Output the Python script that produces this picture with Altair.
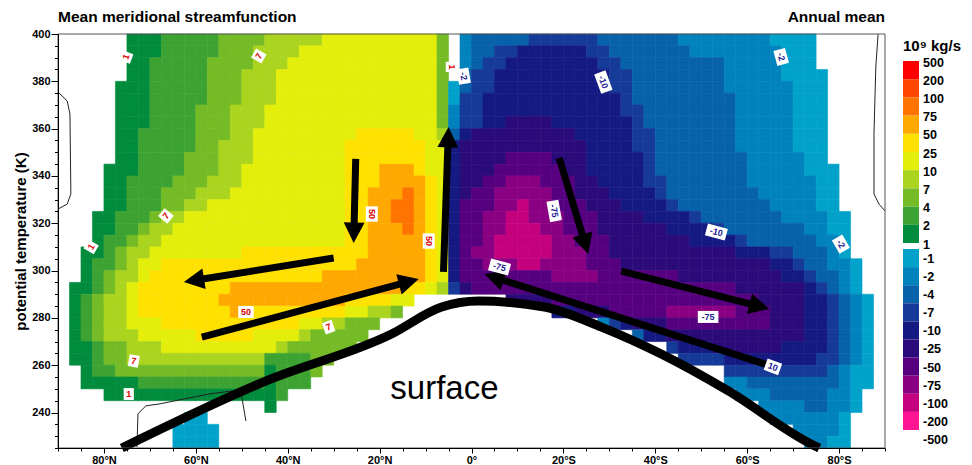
import math
import altair as alt
import pandas as pd

# ---------------- texts ----------------
TITLE_LEFT = "Mean meridional streamfunction"
TITLE_RIGHT = "Annual mean"
Y_TITLE = "potential temperature (K)"
LEGEND_TITLE = "10\u2079 kg/s"
SURFACE_TEXT = "surface"
FONT = "Liberation Sans"

# ---------------- grid definition ----------------
LAT_MAX = 90.0
LAT_MIN = -90.0
LAT_STEP = 2.5
TH_MAX = 400.0
TH_MIN = 225.0
TH_STEP = 5.0

# band codes: a..j = positive bands (1-2, 2-4, 4-7, 7-10, 10-25, 25-50, 50-75, 75-100, 100-200, 200-500)
#             A..J = negative bands (-1..-2, ..., -200..-500); '.' = |psi| < 1 or below surface
BAND_CODES = ["a", "b", "c", "d", "e", "f", "g", "h", "i", "j",
              "A", "B", "C", "D", "E", "F", "G", "H", "I", "J"]
BAND_COLORS = ["#008C3C", "#3CA232", "#74BB26", "#AAD41E", "#E3EE0A",
               "#FFE100", "#FFA800", "#FF7300", "#FF4500", "#FF0000",
               "#00A2CA", "#0082BD", "#0762A9", "#163A98", "#151A82",
               "#2B0A7A", "#560080", "#8A0082", "#C4007F", "#FF1494"]

# legend
POS_LABELS = ["500", "200", "100", "75", "50", "25", "10", "7", "4", "2", "1"]
POS_SWATCHES = ["#FF0000", "#FF4500", "#FF7300", "#FFA800", "#FFE100",
                "#E3EE0A", "#AAD41E", "#74BB26", "#3CA232", "#008C3C"]
NEG_LABELS = ["-1", "-2", "-4", "-7", "-10", "-25", "-50", "-75", "-100", "-200", "-500"]
NEG_SWATCHES = ["#00A2CA", "#0082BD", "#0762A9", "#163A98", "#151A82",
                "#2B0A7A", "#560080", "#8A0082", "#C4007F", "#FF1494"]

# rows from 400 K (top) down to 225 K, 2.5 deg columns from 90N to 90S (run-length: code+count)
ROWS = [
    ".6 a3 b5 c4 d5 e10 c1 .1 B1 C5 D6 C7 B8 A4 .6",
    ".6 a3 b5 c3 d4 e12 c1 .1 B1 C2 D2 E6 D2 C7 B8 A3 .6",
    ".6 a2 b5 c4 d3 e13 c1 .1 B1 C1 D2 E8 D2 C9 B5 A3 .6",
    ".6 a2 b5 c3 d3 e14 c1 .1 C1 D2 E10 D2 C8 B5 A4 .5",
    ".5 a3 b5 c3 d3 e14 c1 A1 C1 D2 E10 D2 C8 B6 A3 .5",
    ".5 a3 b5 c3 d3 e14 c1 A1 D2 E12 D1 C9 B5 A3 .5",
    ".5 a3 b4 c3 d3 e15 c1 B1 D2 E12 D2 C8 B5 A3 .5",
    ".5 a3 b4 c3 d3 e15 c1 B1 D2 E2 F4 E7 D1 C8 B5 A3 .5",
    ".5 a2 b5 c3 d2 e9 f5 e2 d1 C1 E1 F9 E5 D2 C7 B5 A3 .5",
    ".5 a2 b5 c2 d3 e8 f7 e2 E1 F11 E4 D2 C7 B5 A3 .5",
    ".5 a2 b4 c3 d3 e8 f7 e2 E1 F4 G4 F3 E5 D1 C8 B5 A2 .5",
    ".4 a3 b4 c3 d2 e9 f3 g3 f1 e2 E1 F3 G6 F2 E5 D1 C8 B5 A3 .4",
    ".4 a2 b4 c3 d3 e9 f3 g4 f1 e1 E1 F2 G2 H3 G3 F2 E4 D2 C7 B6 A2 .4",
    ".4 a2 b3 c3 d3 e10 f2 g3 h1 g1 f1 e1 E1 F1 G2 H5 G2 F3 E4 D1 C8 B5 A2 .4",
    ".4 a2 b3 c2 d2 e12 f2 g2 h2 g1 f1 e1 E1 G3 H2 I1 H2 G3 F3 E4 D1 C8 B4 A2 .4",
    ".3 a2 b3 c1 d2 e14 f2 g2 h2 g1 f1 e1 E1 G2 H2 I2 H3 G3 F4 E4 D1 C7 B4 A2 .3",
    ".3 a2 b2 c1 d2 e15 f2 g3 h1 g1 f1 e1 E1 G2 H2 I3 H2 G3 F6 E4 D1 C7 B2 A2 .3",
    ".3 a1 b2 c1 d2 e16 f2 g5 f1 e1 E1 G2 H1 I5 H2 G3 F7 E4 D1 C6 B2 A1 .3",
    ".2 a2 b1 c1 d2 e8 f11 g5 f1 e1 E1 G1 H2 I5 H3 G2 F11 E3 D2 C3 B1 A1 .3",
    ".2 a1 b2 c1 d1 e2 f17 g6 f1 e1 E1 G2 H3 I2 H4 G3 F13 E2 D1 C2 B2 A1 .2",
    ".2 a1 b1 c1 d2 e1 f15 g9 f1 e1 E1 G8 H4 G7 F9 E2 D1 C2 B1 A1 .2",
    ".1 a2 b1 c1 d1 e1 f8 g15 f2 e1 d1 D1 F1 G23 F6 E1 D1 C1 B1 A1 .2",
    ".1 a1 b1 c1 d2 e1 f7 g11 f4 e2 .3 .1 .4 F4 G18 F4 E2 D1 C1 B1 A1 .1",
    ".1 a1 b1 c1 d2 e1 f8 g1 f9 e2 d2 c1 .4 .1 .8 E2 F3 G5 H6 G3 F3 E2 D1 C1 B1 A1 .1",
    ".1 a1 b1 c1 d2 e3 f12 e2 d2 c3 .6 .1 .12 B1 D1 E1 F3 G9 F3 E2 D1 C1 B1 A1 .1",
    ".1 a1 b1 c1 d3 e5 f5 e4 d1 c5 .7 .1 .15 C1 E2 F12 E2 D1 C1 B1 A1 .1",
    ".1 a2 b1 c2 d3 e10 d1 c6 .8 .1 .18 D1 E3 F6 E4 D1 C1 B1 A1 .1",
    ".1 a2 b1 c2 d12 b4 c2 .10 .1 .19 D4 E8 D2 C1 B1 A1 .1",
    ".2 a1 b2 c13 a1 b3 c1 .11 .1 .23 D9 C1 B1 A2 .1",
    ".2 a5 b11 a1 b3 .12 .1 .23 B2 C8 B1 A2 .1",
    ".4 a15 b1 .14 .1 .24 B3 C5 B2 A1 .2",
    ".18 a1 .15 .1 .26 B4 C2 B2 A1 .2",
    ".11 A2 .21 .1 .27 B6 A1 .3",
    ".10 A4 .20 .1 .29 B4 A1 .3",
    ".10 A4 .20 .1 .30 B2 A2 .3",
]

# zero contours (black thin lines)
ZERO_SEG = [0, 0, 0, 0, 0, 0, 1, 1, 1, 1, 1, 1, 2, 2, 2, 2, 2, 2, 2, 2]
ZERO_LAT = [90.0, 88.0, 87.4, 87.2, 88.0, 90.0,
            -88.5, -88.0, -87.6, -87.6, -88.7, -90.0,
            72.8, 72.6, 70.9, 68.0, 57.2, 52.2, 50.0, 49.1]
ZERO_TH = [375.5, 371.7, 366.2, 332.4, 328.1, 326.0,
           400.0, 386.0, 357.7, 332.4, 328.1, 325.2,
           225.4, 239.4, 242.8, 243.6, 247.8, 249.1, 246.6, 236.4]

# surface curve
SURF_LAT = [76.1, 44.8, 17.4, 6.5, -1.5, -15.9, -28.3, -41.3, -55.9, -73.9, -75.7]
SURF_TH = [225.0, 253.3, 273.2, 284.6, 287.1, 284.6, 276.1, 264.7, 249.1, 226.7, 225.0]
SURF_LABEL_LAT = 5.9
SURF_LABEL_TH = 250.0

# circulation arrows (tail -> tip)
ARROW_TAIL_LAT = [25.2, 30.0, 58.7, 6.1, -19.1, -32.6, -65.9]
ARROW_TAIL_TH = [347.2, 305.3, 271.9, 299.4, 347.6, 299.8, 259.2]
ARROW_TIP_LAT = [25.65, 62.6, 11.5, 5.0, -25.4, -64.8, -2.8]
ARROW_TIP_TH = [311.7, 295.2, 296.4, 360.7, 307.0, 283.8, 298.5]

# contour labels
CL_TEXT = ["1", "7", "7", "1", "50", "50", "50", "7", "7", "1", "1",
           "-10", "-2", "-75", "-75", "-10", "-2", "-75", "10", "-2"]
CL_LAT = [75.2, 46.3, 66.5, 82.8, 21.7, 9.3, 49.1, 73.5, 31.1, 74.6, 4.3,
          -28.7, -67.4, -18.0, -6.1, -53.3, -80.4, -51.5, -65.6, 1.7]
CL_TH = [390.3, 390.7, 323.1, 310.0, 323.9, 312.5, 282.5, 261.8, 276.1, 247.8, 386.1,
         379.7, 390.3, 325.2, 301.5, 316.3, 311.2, 280.4, 259.3, 382.2]
CL_ANGLE = [290, 300, 310, 300, 90, 90, 0, 10, 340, 0, 90,
            70, 75, 80, 15, 15, 60, 0, 20, 80]
CL_HEMI = ["N"] * 11 + ["S"] * 9

# ---------------- layout constants ----------------
W, H = 827, 414
PX_LAT = W / (LAT_MAX - LAT_MIN)
PX_TH = H / (TH_MAX - TH_MIN)
HEAD_PATH = "M0,-1L0.95,0.85L-0.95,0.85Z"
HEAD_SIZE = 484
BOX_SIZE = 400


def expand(rle):
    out = []
    for tok in rle.split():
        out.extend(tok[0] * int(tok[1:]))
    n = int(round((LAT_MAX - LAT_MIN) / LAT_STEP))
    return (out + ["."] * n)[:n]


cells = []
for r, rle in enumerate(ROWS):
    for k, code in enumerate(expand(rle)):
        if code == ".":
            continue
        lat_n = LAT_MAX - LAT_STEP * k
        th_hi = TH_MAX - TH_STEP * r
        cells.append({"lat": lat_n, "lat2": lat_n - LAT_STEP,
                      "theta": th_hi - TH_STEP, "theta2": th_hi, "code": code})
df_cells = pd.DataFrame(cells)


def to_px(lat, th):
    return (LAT_MAX - lat) * PX_LAT, (TH_MAX - th) * PX_TH


def from_px(x, y):
    return LAT_MAX - x / PX_LAT, TH_MAX - y / PX_TH


shaft_rows, head_rows = [], []
r_head = math.sqrt(HEAD_SIZE) / 2
for i in range(len(ARROW_TAIL_LAT)):
    x0, y0 = to_px(ARROW_TAIL_LAT[i], ARROW_TAIL_TH[i])
    x1, y1 = to_px(ARROW_TIP_LAT[i], ARROW_TIP_TH[i])
    dx, dy = x1 - x0, y1 - y0
    d = math.hypot(dx, dy)
    ux, uy = dx / d, dy / d
    cx, cy = x1 - ux * r_head, y1 - uy * r_head
    clat, cth = from_px(cx, cy)
    shaft_rows.append({"id": i, "o": 0, "lat": ARROW_TAIL_LAT[i], "theta": ARROW_TAIL_TH[i]})
    shaft_rows.append({"id": i, "o": 1, "lat": clat, "theta": cth})
    ang = math.degrees(math.atan2(dx, -dy)) % 360
    head_rows.append({"lat": clat, "theta": cth, "ang": ang})
df_shaft = pd.DataFrame(shaft_rows)
df_head = pd.DataFrame(head_rows)


def box_path(text):
    hw = (2.5 + 2.6 * len(text)) / 10.0
    hh = 0.6
    return f"M{-hw:.2f},{-hh:.2f}L{hw:.2f},{-hh:.2f}L{hw:.2f},{hh:.2f}L{-hw:.2f},{hh:.2f}Z"


df_cl = pd.DataFrame({
    "lat": CL_LAT, "theta": CL_TH, "txt": CL_TEXT, "ang": CL_ANGLE,
    "path": [box_path(t) for t in CL_TEXT],
    "col": ["#E00000" if h == "N" else "#1E1E96" for h in CL_HEMI],
})

df_zero = pd.DataFrame({"seg": ZERO_SEG, "lat": ZERO_LAT, "theta": ZERO_TH,
                        "o": list(range(len(ZERO_LAT)))})
df_surf = pd.DataFrame({"lat": SURF_LAT, "theta": SURF_TH})

# ---------------- scales / axes ----------------
xscale = alt.Scale(domain=[LAT_MAX, LAT_MIN], nice=False, zero=False)
yscale = alt.Scale(domain=[TH_MIN, TH_MAX], nice=False, zero=False)

xaxis = alt.Axis(
    values=list(range(-90, 91, 5)), title=None,
    labelExpr="datum.value % 20 != 0 ? '' : (datum.value > 0 ? datum.value + '°N' : (datum.value < 0 ? (-datum.value) + '°S' : '0°'))",
    tickSize={"condition": {"test": "datum.value % 20 === 0", "value": 5}, "value": 3},
    tickColor="black", domainColor="black", labelColor="black",
    labelFont=FONT, labelFontSize=11, labelFontWeight="bold",
    labelPadding=1, labelFlush=False, labelOverlap=False, grid=False, zindex=1,
)
yaxis = alt.Axis(
    values=list(range(225, 401, 5)), title=Y_TITLE,
    labelExpr="datum.value % 20 == 0 ? datum.value : ''",
    tickSize={"condition": {"test": "datum.value % 20 === 0", "value": 7}, "value": 3.5},
    tickColor="black", domainColor="black", labelColor="black",
    labelFont=FONT, labelFontSize=11, labelFontWeight="bold",
    labelPadding=1, labelFlush=False, labelOverlap=False, grid=False, zindex=1,
    titleFont=FONT, titleFontSize=15, titleFontWeight="bold", titleColor="black",
    titlePadding=3,
)


def X(field):
    return alt.X(f"{field}:Q", scale=xscale, axis=xaxis)


def Y(field):
    return alt.Y(f"{field}:Q", scale=yscale, axis=yaxis)


band_scale = alt.Scale(domain=BAND_CODES, range=BAND_COLORS)

cell_layer = alt.Chart(df_cells).mark_rect(strokeWidth=0.6).encode(
    x=X("lat"), x2="lat2", y=Y("theta"), y2="theta2",
    color=alt.Color("code:N", scale=band_scale, legend=None),
    stroke=alt.Stroke("code:N", scale=band_scale, legend=None),
)

zero_layer = alt.Chart(df_zero).mark_line(color="#222222", strokeWidth=1).encode(
    x=X("lat"), y=Y("theta"), detail="seg:N", order="o:Q",
)

box_layer = alt.Chart(df_cl).mark_point(filled=True, color="white", opacity=1,
                                         strokeWidth=0, size=BOX_SIZE).encode(
    x=X("lat"), y=Y("theta"),
    shape=alt.Shape("path:N", scale=None),
    angle=alt.Angle("ang:Q", scale=None),
)

label_layer = alt.Chart(df_cl).mark_text(font=FONT, fontWeight="bold", fontSize=9,
                                          align="center", baseline="middle").encode(
    x=X("lat"), y=Y("theta"), text="txt:N",
    angle=alt.Angle("ang:Q", scale=None),
    color=alt.Color("col:N", scale=None),
)

surf_layer = alt.Chart(df_surf).mark_line(color="black", strokeWidth=9,
                                           interpolate="monotone", strokeCap="butt").encode(
    x=X("lat"), y=Y("theta"),
)

shaft_layer = alt.Chart(df_shaft).mark_line(color="black", strokeWidth=7, strokeCap="butt").encode(
    x=X("lat"), y=Y("theta"), detail="id:N", order="o:Q",
)

head_layer = alt.Chart(df_head).mark_point(shape=HEAD_PATH, filled=True, color="black",
                                            opacity=1, strokeWidth=0, size=HEAD_SIZE).encode(
    x=X("lat"), y=Y("theta"), angle=alt.Angle("ang:Q", scale=None),
)

surf_text = alt.Chart(pd.DataFrame({"lat": [SURF_LABEL_LAT], "theta": [SURF_LABEL_TH],
                                    "txt": [SURFACE_TEXT]})).mark_text(
    font=FONT, fontSize=33, color="black", align="center", baseline="middle").encode(
    x=X("lat"), y=Y("theta"), text="txt:N",
)

# two headline texts above the plot (left and right aligned to the frame)
df_titles = pd.DataFrame({"lat": [LAT_MAX, LAT_MIN], "theta": [TH_MAX, TH_MAX],
                          "txt": [TITLE_LEFT, TITLE_RIGHT]})
title_left = alt.Chart(df_titles.iloc[[0]]).mark_text(
    font=FONT, fontSize=15.5, fontWeight="bold", color="black",
    align="left", baseline="alphabetic", dy=-12).encode(
    x=X("lat"), y=Y("theta"), text="txt:N",
)
title_right = alt.Chart(df_titles.iloc[[1]]).mark_text(
    font=FONT, fontSize=15.5, fontWeight="bold", color="black",
    align="right", baseline="alphabetic", dy=-12).encode(
    x=X("lat"), y=Y("theta"), text="txt:N",
)

frame = alt.Chart(pd.DataFrame({"lat": [LAT_MAX], "lat2": [LAT_MIN],
                                "theta": [TH_MIN], "theta2": [TH_MAX]})).mark_rect(
    filled=False, color="#555555", strokeWidth=1).encode(
    x=X("lat"), x2="lat2", y=Y("theta"), y2="theta2",
)

main = alt.layer(
    cell_layer, zero_layer, surf_layer, shaft_layer, head_layer,
    box_layer, label_layer, surf_text, title_left, title_right, frame,
).properties(width=W, height=H)

# ---------------- legend (colour bar) ----------------
LEG_W = 16
POS_TOP = 27.0
POS_STEP = 18.2
NEG_TOP = 215.0
NEG_STEP = 18.1

leg_rects = []
for i, c in enumerate(POS_SWATCHES):
    y0 = POS_TOP + i * POS_STEP
    leg_rects.append({"x0": 0, "x1": 1, "y0": y0, "y1": y0 + POS_STEP, "col": c})
for j, c in enumerate(NEG_SWATCHES):
    y0 = NEG_TOP + j * NEG_STEP
    leg_rects.append({"x0": 0, "x1": 1, "y0": y0, "y1": y0 + NEG_STEP, "col": c})
leg_labels = []
for i, t in enumerate(POS_LABELS):
    leg_labels.append({"x0": 1, "y0": POS_TOP + i * POS_STEP + 1.5, "txt": t})
for j, t in enumerate(NEG_LABELS):
    leg_labels.append({"x0": 1, "y0": NEG_TOP + (j + 0.55) * NEG_STEP, "txt": t})

lx = alt.Scale(domain=[0, 1], nice=False, zero=False)
ly = alt.Scale(domain=[0, H], nice=False, zero=False, reverse=True)

leg_rect_layer = alt.Chart(pd.DataFrame(leg_rects)).mark_rect().encode(
    x=alt.X("x0:Q", scale=lx, axis=None), x2="x1",
    y=alt.Y("y0:Q", scale=ly, axis=None), y2="y1",
    color=alt.Color("col:N", scale=None),
)
leg_label_layer = alt.Chart(pd.DataFrame(leg_labels)).mark_text(
    font=FONT, fontSize=12.5, fontWeight="bold", color="black",
    align="left", baseline="middle", dx=4).encode(
    x=alt.X("x0:Q", scale=lx, axis=None),
    y=alt.Y("y0:Q", scale=ly, axis=None), text="txt:N",
)
leg_title_layer = alt.Chart(pd.DataFrame({"x0": [0], "y0": [17], "txt": [LEGEND_TITLE]})).mark_text(
    font=FONT, fontSize=15, fontWeight="bold", color="black",
    align="left", baseline="alphabetic").encode(
    x=alt.X("x0:Q", scale=lx, axis=None),
    y=alt.Y("y0:Q", scale=ly, axis=None), text="txt:N",
)
legend = alt.layer(leg_rect_layer, leg_label_layer, leg_title_layer).properties(
    width=LEG_W, height=H)

chart = alt.hconcat(main, legend, spacing=18, bounds="flush").configure_view(
    strokeWidth=0
).properties(padding={"left": 5, "top": 2, "right": 0, "bottom": 0})

chart.save("out.html", embed_options={"renderer": "svg", "actions": False})
